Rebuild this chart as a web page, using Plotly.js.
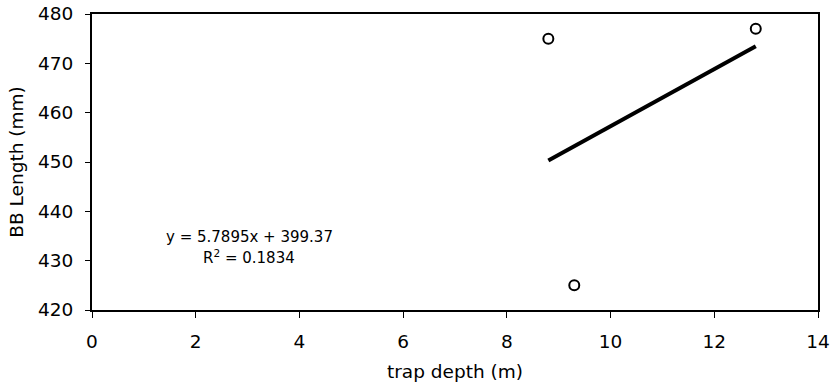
<!DOCTYPE html>
<html>
<head>
<meta charset="utf-8">
<script src="https://cdn.plot.ly/plotly-3.0.1.min.js"></script>
<style>html,body{margin:0;padding:0;background:#fff;}#chart{width:830px;height:391px;}</style>
</head>
<body>
<div id="chart"></div>
<script>
// Data
var trapDepth = [8.8, 9.3, 12.8];
var bbLength = [475, 425, 477];
var xTicks = [0, 2, 4, 6, 8, 10, 12, 14];
var yTicks = [420, 430, 440, 450, 460, 470, 480];

// Linear least-squares trendline computed from the data
var n = trapDepth.length;
var mx = trapDepth.reduce(function(a, b){return a + b;}, 0) / n;
var my = bbLength.reduce(function(a, b){return a + b;}, 0) / n;
var sxx = 0, sxy = 0, syy = 0;
for (var i = 0; i < n; i++) {
  sxx += (trapDepth[i] - mx) * (trapDepth[i] - mx);
  sxy += (trapDepth[i] - mx) * (bbLength[i] - my);
  syy += (bbLength[i] - my) * (bbLength[i] - my);
}
var slope = sxy / sxx;
var intercept = my - slope * mx;
var r2 = (sxy * sxy) / (sxx * syy);
var xMin = Math.min.apply(null, trapDepth), xMax = Math.max.apply(null, trapDepth);
var trendX = [xMin, xMax];
var trendY = trendX.map(function(x){return slope * x + intercept;});

var font = 'DejaVu Sans, Arial, sans-serif';

var traces = [
  {
    x: trendX, y: trendY, mode: 'lines', type: 'scatter',
    line: {color: '#000', width: 4}, hoverinfo: 'skip', showlegend: false
  },
  {
    x: trapDepth, y: bbLength, mode: 'markers', type: 'scatter',
    marker: {symbol: 'circle-open', size: 10, color: '#000', line: {color: '#000', width: 2}},
    showlegend: false
  }
];

var layout = {
  width: 830, height: 391,
  margin: {l: 92, r: 12, t: 14, b: 81, pad: 0},
  paper_bgcolor: '#fff', plot_bgcolor: '#fff',
  font: {family: font, color: '#000', size: 18},
  showlegend: false,
  xaxis: {
    range: [0, 14], tickvals: xTicks, ticktext: xTicks.map(String),
    showgrid: false, zeroline: false,
    showline: true, linecolor: '#000', linewidth: 2, mirror: true,
    ticks: 'outside', ticklen: 6, tickwidth: 1, tickcolor: '#000',
    tickfont: {family: font, size: 18.5, color: '#000'},
    ticklabelstandoff: 8,
    title: {text: 'trap depth (m)', font: {family: font, size: 18.5, color: '#000'}, standoff: 14},
    automargin: false
  },
  yaxis: {
    range: [420, 480], tickvals: yTicks, ticktext: yTicks.map(String),
    showgrid: false, zeroline: false,
    showline: true, linecolor: '#000', linewidth: 2, mirror: true,
    ticks: 'outside', ticklen: 5, tickwidth: 1, tickcolor: '#000',
    tickfont: {family: font, size: 18.5, color: '#000'},
    ticklabelstandoff: 8,
    title: {text: 'BB Length (mm)', font: {family: font, size: 18.5, color: '#000'}, standoff: 10},
    automargin: false
  },
  annotations: [
    {
      xref: 'paper', yref: 'paper', x: (249 - 92) / 726, y: (310 - 237) / 296,
      xanchor: 'center', yanchor: 'middle', showarrow: false,
      text: 'y = ' + slope.toFixed(4) + 'x + ' + intercept.toFixed(2),
      font: {family: font, size: 15, color: '#000'}
    },
    {
      xref: 'paper', yref: 'paper', x: (249 - 92) / 726, y: (310 - 257) / 296,
      xanchor: 'center', yanchor: 'middle', showarrow: false,
      text: 'R<sup>2</sup> = ' + r2.toFixed(4),
      font: {family: font, size: 15, color: '#000'}
    }
  ]
};

Plotly.newPlot('chart', traces, layout, {displayModeBar: false, staticPlot: true});
</script>
</body>
</html>
